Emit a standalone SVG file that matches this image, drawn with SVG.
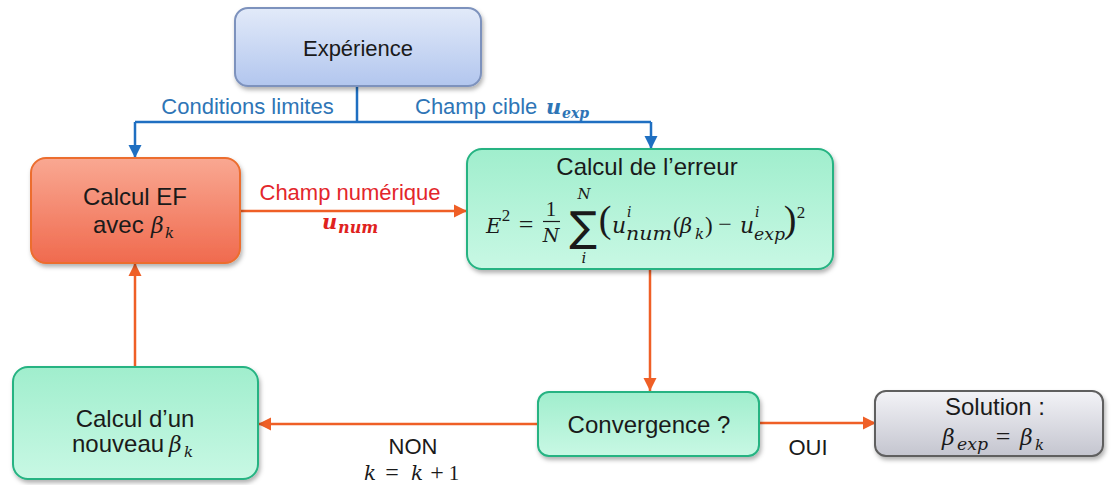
<svg xmlns="http://www.w3.org/2000/svg" width="1115" height="485" viewBox="0 0 1115 485">
<defs>
<linearGradient id="gBlue" x1="0" y1="0" x2="0" y2="1"><stop offset="0" stop-color="#e2eaf9"/><stop offset="1" stop-color="#b2c6ee"/></linearGradient>
<linearGradient id="gRed" x1="0" y1="0" x2="0" y2="1"><stop offset="0" stop-color="#f9a892"/><stop offset="1" stop-color="#f06a4e"/></linearGradient>
<linearGradient id="gGreen" x1="0" y1="0" x2="0" y2="1"><stop offset="0" stop-color="#a0eecd"/><stop offset="1" stop-color="#c8f8e4"/></linearGradient>
<linearGradient id="gGray" x1="0" y1="0" x2="0" y2="1"><stop offset="0" stop-color="#f3f3f7"/><stop offset="1" stop-color="#c4c5cf"/></linearGradient>
<filter id="sh" x="-10%" y="-10%" width="125%" height="135%"><feDropShadow dx="1.5" dy="3" stdDeviation="2" flood-color="#000" flood-opacity="0.3"/></filter>
<marker id="aO" markerUnits="userSpaceOnUse" markerWidth="14" markerHeight="14" refX="13" refY="7" orient="auto"><path d="M0,0.5 L13,7 L0,13.5 z" fill="#ef5f26"/></marker>
<marker id="aB" markerUnits="userSpaceOnUse" markerWidth="14" markerHeight="14" refX="13" refY="7" orient="auto"><path d="M0,0.5 L13,7 L0,13.5 z" fill="#1f6fc1"/></marker>
<style>
.t{font-family:"Liberation Sans",Arial,sans-serif;fill:#1a1a1a}
.m{font-family:"DejaVu Serif",serif;font-style:italic;fill:#1a1a1a}
.r{font-family:"Liberation Serif",serif;fill:#1a1a1a}
.box{stroke-width:2}
.cO{stroke:#ef5f26;stroke-width:2.5;fill:none}
.cB{stroke:#1f6fc1;stroke-width:2.5;fill:none}
.lb{font-family:"Liberation Sans",Arial,sans-serif;font-size:22px;fill:#2e75b6}
</style>
</defs>
<rect width="1115" height="485" fill="#ffffff"/>

<g id="connectors">
<path class="cB" d="M357,86 V122"/>
<path class="cB" d="M135,122 H651"/>
<path class="cB" d="M135,122 V158" marker-end="url(#aB)"/>
<path class="cB" d="M651,122 V149" marker-end="url(#aB)"/>
<path class="cO" d="M240,211 H467" marker-end="url(#aO)"/>
<path class="cO" d="M650,269 V391" marker-end="url(#aO)"/>
<path class="cO" d="M538,424 H258" marker-end="url(#aO)"/>
<path class="cO" d="M135,367 V263" marker-end="url(#aO)"/>
<path class="cO" d="M759,423 H876" marker-end="url(#aO)"/>
<text class="lb" x="247.5" y="114" text-anchor="middle">Conditions limites</text>
<text class="lb" x="415" y="114">Champ cible</text>
<text class="m" x="546" y="114" font-size="21" font-weight="bold" style="fill:#2e75b6">u</text>
<text class="m" x="562" y="118" font-size="14" font-weight="bold" style="fill:#2e75b6">exp</text>
<text class="t" x="350" y="200" text-anchor="middle" font-size="22" style="fill:#e3262b">Champ numérique</text>
<text class="m" x="322" y="229" font-size="21" font-weight="bold" style="fill:#e0221e">u</text>
<text class="m" x="338" y="233" font-size="16" font-weight="bold" style="fill:#e0221e">num</text>
<text class="t" x="413" y="454" text-anchor="middle" font-size="22">NON</text>
<text class="m" x="370" y="480" text-anchor="middle" font-size="20">k</text>
<text class="r" x="392" y="480" text-anchor="middle" font-size="24">=</text>
<text class="m" x="417" y="480" text-anchor="middle" font-size="20">k</text>
<text class="r" x="437" y="480" text-anchor="middle" font-size="24">+</text>
<text class="r" x="454" y="480" text-anchor="middle" font-size="21">1</text>
<text class="t" x="808" y="455" text-anchor="middle" font-size="22">OUI</text>
</g>

<g id="experience">
<rect class="box" x="235" y="8" width="246" height="78" rx="13" fill="url(#gBlue)" stroke="#7d92bd" filter="url(#sh)"/>
<text class="t" x="358" y="56" text-anchor="middle" font-size="22">Expérience</text>
</g>

<g id="calcul-ef">
<rect class="box" x="31" y="158" width="209" height="105" rx="15" fill="url(#gRed)" stroke="#ec6d2e" filter="url(#sh)"/>
<text class="t" x="135" y="205" text-anchor="middle" font-size="24">Calcul EF</text>
<text class="t" x="93" y="233" font-size="24">avec</text>
<text class="m" x="151" y="233" font-size="22">β</text>
<text class="m" x="165" y="238" font-size="15">k</text>
</g>

<g id="calcul-erreur">
<rect class="box" x="467" y="149" width="366" height="120" rx="15" fill="url(#gGreen)" stroke="#25b382" filter="url(#sh)"/>
<text class="t" x="647" y="175" text-anchor="middle" font-size="24">Calcul de l’erreur</text>
<text class="m" x="486" y="233" font-size="21">E</text>
<text class="r" x="506" y="221" text-anchor="middle" font-size="17">2</text>
<text class="r" x="526" y="233" text-anchor="middle" font-size="26">=</text>
<text class="r" x="551" y="216" text-anchor="middle" font-size="21">1</text>
<line x1="543" y1="221.5" x2="560" y2="221.5" stroke="#1a1a1a" stroke-width="1.2"/>
<text class="m" x="551" y="242" text-anchor="middle" font-size="19">N</text>
<text x="583" y="241" text-anchor="middle" font-size="41" style="font-family:'DejaVu Sans',sans-serif;fill:#1a1a1a">∑</text>
<text class="m" x="584" y="199" text-anchor="middle" font-size="15">N</text>
<text class="m" x="584" y="263" text-anchor="middle" font-size="15">i</text>
<text class="r" x="605" y="232" text-anchor="middle" font-size="38">(</text>
<text class="m" x="612" y="233" font-size="22">u</text>
<text class="m" x="627" y="217" font-size="14">i</text>
<text class="m" x="626" y="240" font-size="18" textLength="46" lengthAdjust="spacingAndGlyphs">num</text>
<text class="r" x="673" y="233" font-size="23">(</text>
<text class="m" x="680" y="233" font-size="21">β</text>
<text class="m" x="695" y="239" font-size="15">k</text>
<text class="r" x="705" y="233" font-size="23">)</text>
<text class="r" x="725" y="232" text-anchor="middle" font-size="24">−</text>
<text class="m" x="740" y="233" font-size="22">u</text>
<text class="m" x="755" y="217" font-size="14">i</text>
<text class="m" x="754" y="240" font-size="17" textLength="31" lengthAdjust="spacingAndGlyphs">exp</text>
<text class="r" x="790" y="232" text-anchor="middle" font-size="38">)</text>
<text class="r" x="801" y="218" text-anchor="middle" font-size="17">2</text>
</g>

<g id="convergence">
<rect class="box" x="538" y="392" width="221" height="64" rx="11" fill="url(#gGreen)" stroke="#25b382" filter="url(#sh)"/>
<text class="t" x="649" y="433" text-anchor="middle" font-size="24">Convergence ?</text>
</g>

<g id="nouveau">
<rect class="box" x="13" y="367" width="245" height="112" rx="15" fill="url(#gGreen)" stroke="#25b382" filter="url(#sh)"/>
<text class="t" x="135" y="427" text-anchor="middle" font-size="24">Calcul d’un</text>
<text class="t" x="72" y="452" font-size="24">nouveau</text>
<text class="m" x="169" y="452" font-size="22">β</text>
<text class="m" x="184" y="457" font-size="15">k</text>
</g>

<g id="solution">
<rect class="box" x="875" y="391" width="228" height="65" rx="11" fill="url(#gGray)" stroke="#5e5e5e" filter="url(#sh)"/>
<text class="t" x="995" y="415" text-anchor="middle" font-size="24">Solution :</text>
<text class="m" x="942" y="445" font-size="22">β</text>
<text class="m" x="957" y="450" font-size="16" textLength="31" lengthAdjust="spacingAndGlyphs">exp</text>
<text class="r" x="1003" y="445" text-anchor="middle" font-size="26">=</text>
<text class="m" x="1020" y="445" font-size="22">β</text>
<text class="m" x="1035" y="450" font-size="15">k</text>
</g>
</svg>
